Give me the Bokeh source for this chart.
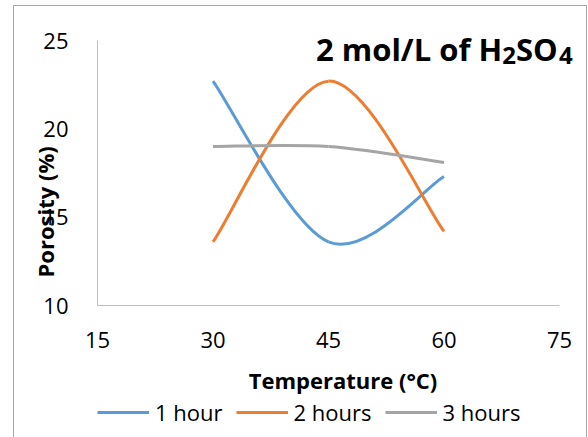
from bokeh.plotting import figure
from bokeh.layouts import column
from bokeh.models import (Label, Legend, LegendItem, FixedTicker, Range1d,
                          ColumnDataSource, InlineStyleSheet, Title)
from bokeh.embed import file_html
from bokeh.resources import INLINE

# ---- data ----
temps = [30, 45, 60]
hour1 = [22.7, 13.6, 17.3]
hour2 = [13.6, 22.7, 14.2]
hour3 = [19.0, 19.0, 18.1]
series_names = ["1 hour", "2 hours", "3 hours"]
series_values = [hour1, hour2, hour3]
colors = ["#5B9BD5", "#ED7D31", "#A5A5A5"]
x_ticks = [15, 30, 45, 60, 75]
y_ticks = [10, 15, 20, 25]
x_title = "Temperature (°C)"
y_title = "Porosity (%)"

FONT = "Open Sans"

# ---- layout (pixels) ----
W = 588
H_MAIN, H_LEG = 397, 40
FRAME_L, FRAME_B = 97, 305          # frame left / bottom edge on the page
AXIS_R, AXIS_T = 559, 40            # where x=75 and y=25 sit


def smooth_segments(xs, ys, k=1.0 / 6.0):
    """Bezier control points (Catmull-Rom style smoothing, like a spreadsheet's smoothed line)."""
    n = len(xs)
    d = dict(x0=[], y0=[], x1=[], y1=[], cx0=[], cy0=[], cx1=[], cy1=[])
    for i in range(n - 1):
        a = max(i - 1, 0)
        b = min(i + 2, n - 1)
        d["x0"].append(xs[i]); d["y0"].append(ys[i])
        d["x1"].append(xs[i + 1]); d["y1"].append(ys[i + 1])
        d["cx0"].append(xs[i] + (xs[i + 1] - xs[a]) * k)
        d["cy0"].append(ys[i] + (ys[i + 1] - ys[a]) * k)
        d["cx1"].append(xs[i + 1] - (xs[b] - xs[i]) * k)
        d["cy1"].append(ys[i + 1] - (ys[b] - ys[i]) * k)
    return d


x_lo, x_hi = x_ticks[0], x_ticks[-1]
y_lo, y_hi = y_ticks[0], y_ticks[-1]
px_x = (AXIS_R - FRAME_L) / (x_hi - x_lo)
px_y = (FRAME_B - AXIS_T) / (y_hi - y_lo)

p = figure(width=W, height=H_MAIN, output_backend="svg", toolbar_location=None,
           x_range=Range1d(x_lo, x_hi + (W - AXIS_R) / px_x),
           y_range=Range1d(y_lo, y_hi + AXIS_T / px_y),
           min_border_left=FRAME_L, min_border_right=0, min_border_top=0,
           min_border_bottom=H_MAIN - FRAME_B)
p.outline_line_color = None
p.grid.visible = False
p.background_fill_color = "white"
p.border_fill_color = "white"

for ax in (p.xaxis[0], p.yaxis[0]):
    ax.axis_line_color = "#BFBFBF"
    ax.axis_line_width = 1
    ax.major_tick_line_color = None
    ax.minor_tick_line_color = None
    ax.major_label_text_font = FONT
    ax.major_label_text_font_size = "22px"
    ax.major_label_text_color = "black"

p.xaxis.ticker = FixedTicker(ticks=x_ticks)
p.yaxis.ticker = FixedTicker(ticks=y_ticks)
p.xaxis.bounds = (x_lo, x_hi)
p.yaxis.bounds = (y_lo, y_hi)
p.xaxis.major_label_standoff = 20
p.yaxis.major_label_standoff = 23

p.xaxis.axis_label = x_title
p.xaxis.axis_label_text_font = FONT
p.xaxis.axis_label_text_font_style = "bold"
p.xaxis.axis_label_text_font_size = "22px"
p.xaxis.axis_label_text_color = "black"
p.xaxis.axis_label_standoff = 14

for vals, col in zip(series_values, colors):
    src = ColumnDataSource(smooth_segments(temps, vals))
    p.bezier(x0="x0", y0="y0", x1="x1", y1="y1", cx0="cx0", cy0="cy0",
             cx1="cx1", cy1="cy1", source=src, line_color=col, line_width=3)

# y-axis title, lower than the frame centre as in the reference
p.add_layout(Title(text=y_title, align="left", vertical_align="bottom",
                   offset=28, standoff=-38,
                   text_font=FONT, text_font_style="bold", text_font_size="22px",
                   text_color="black"), "left")

# chart title with subscripts (inside the plot area)
title_parts = [
    ("2 mol/L of H", 501.7, 48, "31px", "right"),
    ("2", 501.7, 55, "24px", "left"),
    ("SO", 515.5, 48, "31px", "left"),
    ("4", 558.5, 55, "24px", "left"),
]
for txt, tx, ty, fs, al in title_parts:
    p.add_layout(Label(x=tx, y=ty, x_units="canvas", y_units="canvas", text=txt,
                       text_align=al, text_baseline="alphabetic",
                       text_font=FONT, text_font_style="bold", text_font_size=fs,
                       text_color="black"))

# legend strip under the chart (its frame is aligned with the chart's frame)
leg = figure(width=W, height=H_LEG, output_backend="svg", toolbar_location=None,
             x_range=Range1d(0, 1), y_range=Range1d(0, 1),
             x_axis_type=None, y_axis_type=None,
             min_border_left=0, min_border_right=0, min_border_top=0,
             min_border_bottom=0)
leg.outline_line_color = None
leg.grid.visible = False
leg.border_fill_color = "white"

items = []
for name, vals, col in zip(series_names, series_values, colors):
    # same series, drawn outside this strip's visible range: only the legend sample shows
    proxy = leg.line(x=temps, y=vals, line_color=col, line_width=3)
    items.append(LegendItem(label=name, renderers=[proxy]))
legend = Legend(items=items, orientation="horizontal", location=(0, 10),
                padding=0, margin=0, spacing=13, label_standoff=6,
                glyph_width=52, glyph_height=20,
                label_text_font=FONT, label_text_font_size="22px",
                label_text_color="black",
                border_line_color=None, background_fill_alpha=0)
leg.add_layout(legend)

layout = column(p, leg, spacing=0)

# outer chart border (pure CSS, outside the canvas drawing)
layout.stylesheets = [InlineStyleSheet(css=(
    ":host::after { content: ''; position: absolute; left: 13px; top: 5px; "
    "width: 572px; height: 460px; border: 1.5px solid #A6A6A6; "
    "pointer-events: none; z-index: 10; }"))]

open("out.html", "w").write(file_html(layout, INLINE))
